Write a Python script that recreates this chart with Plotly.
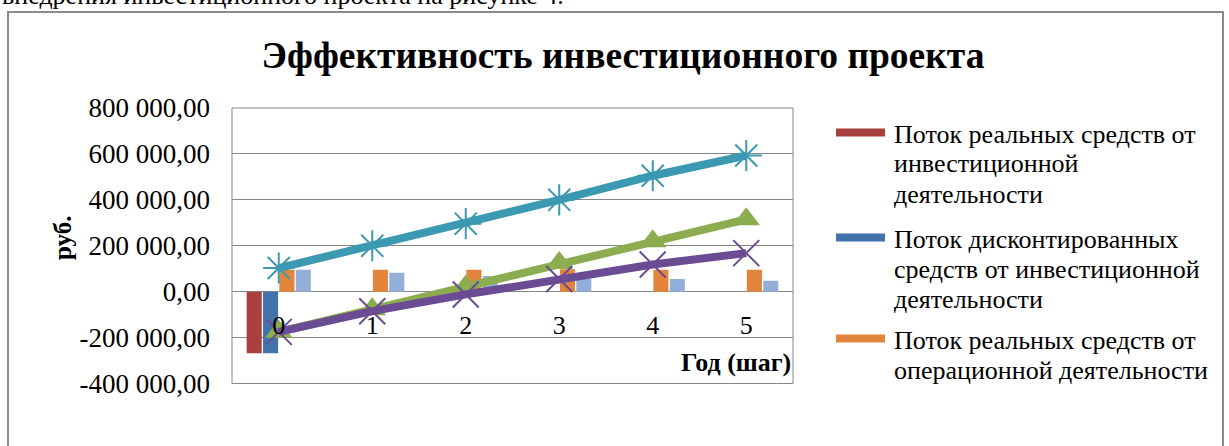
import plotly.graph_objects as go

W, H = 1229, 446

# Steps of the project (categories on the horizontal axis)
steps = ["0", "1", "2", "3", "4", "5"]

# Cash flows, roubles
real_invest = [-268000, 0, 0, 0, 0, 0]
disc_invest = [-268000, 0, 0, 0, 0, 0]
real_oper = [95000, 96000, 96000, 98000, 96000, 96000]
disc_oper = [96000, 82000, 68000, 55000, 55000, 48000]

# Cumulative lines
cum_oper = [103000, 200000, 296000, 400000, 505000, 593000]
cum_real = [-175000, -77000, 22000, 125000, 220000, 315000]
cum_disc = [-175000, -85000, -12000, 55000, 118000, 168000]

bar_names = [
    "Поток реальных средств от<br>инвестиционной<br>деятельности",
    "Поток дисконтированных<br>средств от инвестиционной<br>деятельности",
    "Поток реальных средств от<br>операционной деятельности",
    "Поток дисконтированных<br>средств от операционной<br>деятельности",
]
bar_values = [real_invest, disc_invest, real_oper, disc_oper]
bar_colors = ["#A8403D", "#4272AB", "#E3843C", "#93AFD9"]

line_names = [
    "Накопленный поток от операционной деятельности",
    "Сальдо реальных средств нарастающим итогом",
    "Чистый дисконтированный доход",
]
line_values = [cum_oper, cum_real, cum_disc]
line_colors = ["#3C99B2", "#8BAD4F", "#6B4B93"]
marker_symbols = ["asterisk-open", "triangle-up", "x-thin-open"]
marker_edge = ["#2C7A8F", "#8BAD4F", "#4E3573"]

# Y tick labels, e.g. "800 000,00"
y_ticks = [-400000, -200000, 0, 200000, 400000, 600000, 800000]


def rub(v):
    s = f"{abs(v):,.2f}".replace(",", " ").replace(".", ",")
    return ("-" if v < 0 else "") + s


y_ticktext = [rub(v) for v in y_ticks]

SERIF = "Liberation Serif, DejaVu Serif, serif"

fig = go.Figure()

for name, vals, col in zip(bar_names, bar_values, bar_colors):
    fig.add_trace(go.Bar(
        x=steps, y=vals, name=name, marker=dict(color=col, line=dict(width=0)),
        showlegend=False,
    ))

for name, vals, col, sym, edge in zip(line_names, line_values, line_colors,
                                      marker_symbols, marker_edge):
    is_tri = sym.startswith("triangle")
    fig.add_trace(go.Scatter(
        x=steps, y=vals, name=name, mode="lines+markers",
        line=dict(color=col, width=8),
        marker=dict(symbol=sym, size=24 if is_tri else 26,
                    color=col, line=dict(color=edge, width=0 if is_tri else 2)),
        showlegend=False,
    ))

x_dom = [232 / W, 793 / W]
y_dom = [(H - 383.5) / H, (H - 108) / H]
y_rng = [-400000, 800000]
zero_pos = y_dom[0] + (y_dom[1] - y_dom[0]) * (0 - y_rng[0]) / (y_rng[1] - y_rng[0])

fig.update_layout(
    width=W, height=H,
    margin=dict(l=0, r=0, t=0, b=0, autoexpand=False),
    paper_bgcolor="white", plot_bgcolor="white",
    barmode="group", bargap=0.3, bargroupgap=0.08,
    font=dict(family=SERIF, color="black"),
    title=dict(
        text="<b>Эффективность инвестиционного проекта</b>",
        x=623 / W, xanchor="center", y=1 - 55 / H, yanchor="middle",
        font=dict(family=SERIF, size=37.5, color="black"),
    ),
    xaxis=dict(
        type="category", categoryorder="array", categoryarray=steps,
        range=[-0.5, 5.5], domain=x_dom, anchor="free", position=zero_pos,
        showgrid=False, zeroline=False, showline=False, ticks="",
        automargin=False,
        tickfont=dict(family=SERIF, size=26, color="black"),
        ticklabelstandoff=15,
    ),
    yaxis=dict(
        range=y_rng, domain=y_dom, anchor="free", position=x_dom[0],
        tickvals=y_ticks, ticktext=y_ticktext,
        showgrid=True, gridcolor="#878787", gridwidth=1,
        zeroline=False, showline=False, ticks="", automargin=False,
        tickfont=dict(family=SERIF, size=27, color="black"),
        ticklabelstandoff=22,
    ),
)

shapes = [
    # plot-area border
    dict(type="rect", xref="x domain", yref="y domain", x0=0, x1=1, y0=0, y1=1,
         line=dict(color="#878787", width=1), layer="below"),
    # chart frame
    dict(type="rect", xref="paper", yref="paper",
         x0=8 / W, x1=1223 / W, y0=-30 / H, y1=(H - 12) / H,
         line=dict(color="#8C8C8C", width=2)),
]

annotations = [
    dict(text="внедрения инвестиционного проекта на рисунке 4.",
         xref="paper", yref="paper", x=0, y=(H + 4) / H,
         xanchor="left", yanchor="middle", showarrow=False,
         font=dict(family=SERIF, size=26, color="black")),
    dict(text="<b>руб.</b>", xref="paper", yref="paper",
         x=62 / W, y=(H - 238) / H, textangle=-90,
         xanchor="center", yanchor="middle", showarrow=False,
         font=dict(family=SERIF, size=25, color="black")),
    dict(text="<b>Год (шаг)</b>", xref="paper", yref="paper",
         x=793 / W, y=(H - 362) / H, xanchor="right", yanchor="middle",
         showarrow=False, font=dict(family=SERIF, size=26, color="black")),
]

# Legend for the first three bar series: swatch plus one text line per row
leg_centers = [132.5, 237.5, 338.5]
LINE_PITCH = 30
for name, col, yc in zip(bar_names[:3], bar_colors[:3], leg_centers):
    shapes.append(dict(type="rect", xref="paper", yref="paper",
                       x0=836 / W, x1=885 / W,
                       y0=(H - yc - 4) / H, y1=(H - yc + 4) / H,
                       fillcolor=col, line=dict(width=0)))
    for k, row in enumerate(name.split("<br>")):
        annotations.append(dict(text=row, xref="paper", yref="paper",
                                x=892 / W, y=(H - (yc + 1.5 + LINE_PITCH * k)) / H,
                                xanchor="left", yanchor="middle", align="left",
                                showarrow=False,
                                font=dict(family=SERIF, size=26, color="black")))

fig.update_layout(shapes=shapes, annotations=annotations)

fig.write_html("out.html")
